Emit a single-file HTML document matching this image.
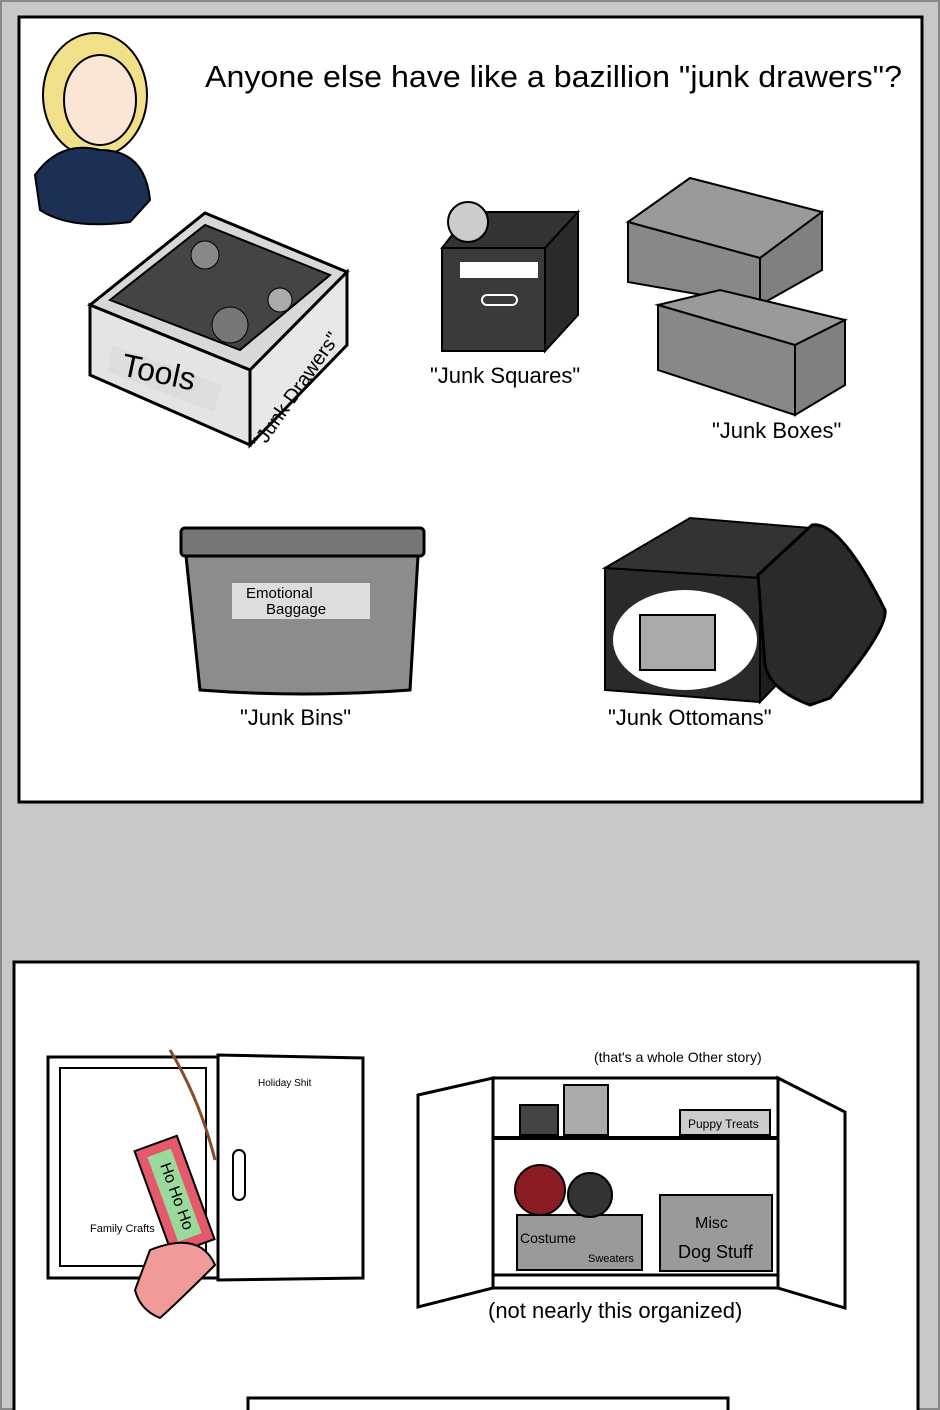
<!DOCTYPE html>
<html><head><style>
body{margin:0;background:#c8c8c8;width:940px;height:1410px;overflow:hidden}
svg{display:block}
text{font-family:"Liberation Sans",sans-serif}
</style></head><body>
<svg width="940" height="1410" viewBox="0 0 940 1410">
<rect x="0" y="0" width="940" height="1410" fill="#c8c8c8"/>
<rect x="1" y="1" width="938" height="1408" fill="none" stroke="#888" stroke-width="2"/>
<!-- top panel -->
<rect x="19" y="17" width="903" height="785" fill="#fff" stroke="#000" stroke-width="3"/>
<text x="205" y="87" font-size="31" fill="#000" textLength="697" lengthAdjust="spacingAndGlyphs">Anyone else have like a bazillion "junk drawers"?</text>
<!-- girl -->
<ellipse cx="95" cy="95" rx="52" ry="62" fill="#f0e08a" stroke="#000" stroke-width="2"/>
<ellipse cx="100" cy="100" rx="36" ry="45" fill="#fbe5d5" stroke="#000" stroke-width="2"/>
<path d="M35 175 Q60 140 100 150 Q145 150 150 200 L130 222 Q70 230 40 210 Z" fill="#1c2f55" stroke="#000" stroke-width="2"/>
<!-- tools drawer -->
<polygon points="90,305 205,213 347,272 250,370" fill="#d8d8d8" stroke="#000" stroke-width="3"/>
<polygon points="110,300 205,225 330,275 240,350" fill="#444" stroke="#000" stroke-width="2"/>
<circle cx="205" cy="255" r="14" fill="#888" stroke="#000"/>
<circle cx="230" cy="325" r="18" fill="#777" stroke="#000"/>
<circle cx="280" cy="300" r="12" fill="#aaa" stroke="#000"/>
<polygon points="90,305 250,370 250,445 90,375" fill="#e4e4e4" stroke="#000" stroke-width="3"/>
<polygon points="250,370 347,272 347,345 250,445" fill="#e8e8e8" stroke="#000" stroke-width="3"/>
<polygon points="112,345 222,385 214,412 108,372" fill="#ddd"/>
<text x="120" y="375" font-size="32" transform="rotate(12 120 375)">Tools</text>
<text x="262" y="450" font-size="20" transform="rotate(-55 262 450)">"Junk Drawers"</text>
<!-- squares -->
<polygon points="442,248 470,212 578,212 545,248" fill="#333" stroke="#000" stroke-width="2"/>
<rect x="442" y="248" width="103" height="103" fill="#3a3a3a" stroke="#000" stroke-width="2"/>
<polygon points="545,248 578,212 578,315 545,351" fill="#2a2a2a" stroke="#000" stroke-width="2"/>
<circle cx="468" cy="222" r="20" fill="#ccc" stroke="#000" stroke-width="2"/>
<rect x="460" y="262" width="78" height="16" fill="#fff"/>
<rect x="482" y="295" width="35" height="10" rx="5" fill="none" stroke="#fff" stroke-width="2"/>
<text x="430" y="383" font-size="22">"Junk Squares"</text>
<!-- boxes -->
<polygon points="628,222 690,178 822,212 760,258" fill="#9a9a9a" stroke="#000" stroke-width="2"/>
<polygon points="628,222 760,258 760,305 628,282" fill="#888" stroke="#000" stroke-width="2"/>
<polygon points="760,258 822,212 822,270 760,305" fill="#808080" stroke="#000" stroke-width="2"/>
<polygon points="658,305 720,290 845,320 795,345" fill="#9a9a9a" stroke="#000" stroke-width="2"/>
<polygon points="658,305 795,345 795,415 658,370" fill="#888" stroke="#000" stroke-width="2"/>
<polygon points="795,345 845,320 845,385 795,415" fill="#808080" stroke="#000" stroke-width="2"/>
<text x="712" y="438" font-size="22">"Junk Boxes"</text>
<!-- bins -->
<rect x="181" y="528" width="243" height="28" fill="#777" stroke="#000" stroke-width="3" rx="4"/>
<path d="M186 556 L418 556 L410 690 Q300 698 200 690 Z" fill="#8c8c8c" stroke="#000" stroke-width="3"/>
<rect x="232" y="583" width="138" height="36" fill="#ddd"/>
<text x="246" y="598" font-size="15">Emotional</text>
<text x="266" y="614" font-size="15">Baggage</text>
<text x="240" y="725" font-size="22">"Junk Bins"</text>
<!-- ottoman -->
<polygon points="605,568 690,518 810,528 760,578" fill="#333" stroke="#000" stroke-width="2"/>
<polygon points="605,568 760,578 760,702 605,690" fill="#2a2a2a" stroke="#000" stroke-width="2"/>
<polygon points="760,578 810,528 810,650 760,702" fill="#1d1d1d" stroke="#000" stroke-width="2"/>
<ellipse cx="685" cy="640" rx="72" ry="50" fill="#fff"/>
<rect x="640" y="615" width="75" height="55" fill="#aaa" stroke="#000" stroke-width="2"/>
<path d="M758 575 L812 525 Q840 520 885 610 Q888 630 830 698 L810 705 Q770 690 765 665 Z" fill="#2a2a2a" stroke="#000" stroke-width="3"/>
<text x="608" y="725" font-size="22">"Junk Ottomans"</text>
<!-- bottom panel -->
<rect x="14" y="962" width="904" height="460" fill="#fff" stroke="#000" stroke-width="3"/>
<!-- left cabinet -->
<rect x="48" y="1057" width="170" height="221" fill="#fff" stroke="#000" stroke-width="3"/>
<rect x="60" y="1068" width="146" height="198" fill="#fff" stroke="#000" stroke-width="2"/>
<polygon points="218,1055 363,1058 363,1278 218,1280" fill="#fff" stroke="#000" stroke-width="3"/>
<rect x="233" y="1150" width="12" height="50" rx="6" fill="none" stroke="#000" stroke-width="2"/>
<text x="258" y="1086" font-size="10">Holiday Shit</text>
<text x="90" y="1232" font-size="11">Family Crafts</text>
<path d="M170 1050 Q200 1100 215 1160" fill="none" stroke="#8b4a2a" stroke-width="3"/>
<rect x="152" y="1140" width="45" height="110" fill="#e45a6a" stroke="#000" stroke-width="2" transform="rotate(-20 175 1195)"/>
<rect x="162" y="1150" width="25" height="90" fill="#9bd89b" transform="rotate(-20 175 1195)"/>
<text x="160" y="1165" font-size="16" transform="rotate(70 160 1165)" fill="#000">Ho Ho Ho</text>
<path d="M150 1250 Q200 1230 215 1265 Q180 1300 160 1318 Q140 1310 135 1290 Z" fill="#f09a9a" stroke="#000" stroke-width="2"/>
<!-- right cabinet -->
<rect x="493" y="1078" width="285" height="210" fill="#fff" stroke="#000" stroke-width="3"/>
<line x1="493" y1="1138" x2="778" y2="1138" stroke="#000" stroke-width="4"/>
<line x1="493" y1="1275" x2="778" y2="1275" stroke="#000" stroke-width="3"/>
<polygon points="418,1095 493,1078 493,1288 418,1307" fill="#fff" stroke="#000" stroke-width="3"/>
<polygon points="778,1078 845,1112 845,1308 778,1288" fill="#fff" stroke="#000" stroke-width="3"/>
<rect x="520" y="1105" width="38" height="30" fill="#444" stroke="#000" stroke-width="2"/>
<rect x="564" y="1085" width="44" height="50" fill="#aaa" stroke="#000" stroke-width="2"/>
<rect x="680" y="1110" width="90" height="25" fill="#ccc" stroke="#000" stroke-width="2"/>
<rect x="517" y="1215" width="125" height="55" fill="#9a9a9a" stroke="#000" stroke-width="2"/>
<rect x="660" y="1195" width="112" height="76" fill="#9a9a9a" stroke="#000" stroke-width="2"/>
<circle cx="540" cy="1190" r="25" fill="#8b1c24" stroke="#000" stroke-width="2"/>
<circle cx="590" cy="1195" r="22" fill="#333" stroke="#000" stroke-width="2"/>
<text x="520" y="1243" font-size="14">Costume</text>
<text x="588" y="1262" font-size="11">Sweaters</text>
<text x="695" y="1228" font-size="16">Misc</text>
<text x="678" y="1258" font-size="18">Dog Stuff</text>
<text x="688" y="1128" font-size="12">Puppy Treats</text>
<text x="594" y="1062" font-size="14">(that's a whole Other story)</text>
<text x="488" y="1318" font-size="22">(not nearly this organized)</text>
<!-- bottom box -->
<rect x="248" y="1398" width="480" height="30" fill="#fff" stroke="#000" stroke-width="3"/>
</svg>
</body></html>
